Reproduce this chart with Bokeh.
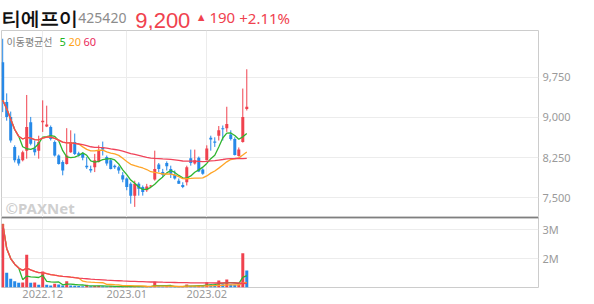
import numpy as np
import pandas as pd
from bokeh.plotting import figure
from bokeh.layouts import column
from bokeh.models import (Range1d, FixedTicker, NumeralTickFormatter, CustomJSTickFormatter,
                          Grid, Label, Span, ColumnDataSource)
from bokeh.core.properties import value
from bokeh.embed import file_html
from bokeh.resources import INLINE

# ---------------- data ----------------
stock_name = "티에프이"
stock_code = "425420"
last_price = "9,200"
change_abs = "190"
change_pct = "+2.11%"

month_ticks = [10, 31, 51]
month_labels = ["2022.12", "2023.01", "2023.02"]
price_ticks = [7500, 8250, 9000, 9750]
volume_ticks = [2_000_000, 3_000_000]

opens = [10030, 9290, 9010, 8450, 8230, 8200, 8380, 8910, 8420, 8380,
         8910, 8830, 8820, 8540, 8290, 8170, 8130, 8350, 8540, 8330,
         8330, 8100, 8040, 8070, 8170, 8440, 8260, 8200, 8100, 8070,
         7920, 7860, 7760, 7540, 7760, 7700, 7640, 7710, 7840, 8120,
         7980, 8150, 8040, 7930, 7820, 7740, 7790, 8240, 8140, 8250,
         8030, 8200, 8620, 8550, 8660, 8800, 8800, 8680, 8600, 8280,
         8540, 9160]
highs = [10470, 9450, 9110, 8480, 8290, 8380, 9420, 9010, 8570, 8660,
         9320, 9220, 8850, 8570, 8310, 8200, 8800, 8760, 8700, 8360,
         8350, 8260, 8100, 8320, 8480, 8550, 8290, 8220, 8120, 8100,
         7980, 7880, 7790, 7820, 7790, 7730, 7760, 7740, 8380, 8150,
         8040, 8180, 8100, 8010, 7860, 7790, 8100, 8400, 8400, 8270,
         8050, 8480, 8660, 8630, 8840, 8850, 9200, 8760, 8630, 8440,
         9540, 9900]
lows = [9100, 8940, 8530, 8160, 8100, 8180, 8230, 8480, 8290, 8230,
        8730, 8820, 8570, 8270, 8120, 7920, 8120, 8340, 8300, 8270,
        8200, 8040, 7970, 7980, 8160, 8290, 8100, 8030, 8040, 7950,
        7790, 7640, 7390, 7330, 7540, 7540, 7610, 7700, 7820, 7980,
        7890, 8010, 7870, 7840, 7760, 7680, 7730, 8100, 8120, 7980,
        7930, 8200, 8380, 8450, 8570, 8570, 8730, 8570, 8290, 8270,
        8530, 9130]
closes = [9320, 9010, 8570, 8200, 8140, 8350, 8820, 8510, 8350, 8540,
          8940, 8870, 8600, 8290, 8130, 8010, 8290, 8540, 8320, 8290,
          8250, 8070, 8010, 8200, 8380, 8400, 8140, 8040, 8070, 8010,
          7840, 7700, 7540, 7760, 7670, 7610, 7710, 7730, 8040, 8040,
          7930, 8090, 7950, 7860, 7760, 7700, 8070, 8150, 8200, 7990,
          7950, 8420, 8590, 8530, 8760, 8780, 8880, 8600, 8300, 8400,
          9010, 9200]
volume_m = [3.19, 1.52, 1.32, 1.23, 1.18, 1.19, 2.14, 1.18, 1.19, 1.11,
            1.57, 1.11, 1.09, 1.15, 1.12, 1.09, 1.23, 1.09, 1.08, 1.07,
            1.06, 1.11, 1.06, 1.07, 1.08, 1.06, 1.05, 1.06, 1.05, 1.06,
            1.05, 1.06, 1.05, 1.06, 1.05, 1.04, 1.05, 1.04, 1.22, 1.06,
            1.05, 1.06, 1.05, 1.04, 1.05, 1.06, 1.12, 1.08, 1.07, 1.08,
            1.07, 1.20, 1.13, 1.12, 1.26, 1.13, 1.29, 1.12, 1.11, 1.12,
            2.19, 1.60]
ma_windows = [5, 20, 60]

# ---------------- styles ----------------
RED = "#f0424e"
BLUE = "#2689e8"
MA_COLORS = ["#2fb52f", "#ffa426", "#f0435a"]
LEGEND_COLORS = ["#22b422", "#ffa31a", "#ea2a5c"]
GRID = "#ececec"
FRAME = "#cccccc"
LABEL = "#9a9a9a"
FONT = "Noto Sans"
KFONT = "Noto Sans CJK KR"
HFONT = "Liberation Sans"

n = len(closes)
idx = np.arange(n)
o = np.array(opens, float)
c = np.array(closes, float)
vol = np.array(volume_m) * 1_000_000
candle_colors = [RED if cc >= oo else BLUE for oo, cc in zip(o, c)]
vol_colors = [RED if (i == 0 or vol[i] >= vol[i - 1]) else BLUE for i in range(n)]

src = ColumnDataSource(dict(x=idx, top=np.maximum(o, c), bottom=np.minimum(o, c),
                            high=highs, low=lows, color=candle_colors))

x_range = Range1d(-0.3, 133.9)

# ---------------- header ----------------
h = figure(width=594, height=30, x_range=Range1d(0, 594), y_range=Range1d(30, 0),
           toolbar_location=None, output_backend="svg", min_border=0,
           x_axis_location=None, y_axis_location=None, outline_line_color=None)
h.grid.visible = False
h.text(x=[0], y=[17.8], text=[stock_name], text_font=value(HFONT), text_font_size="19px",
       text_font_style="bold", text_color="#111111", text_baseline="alphabetic")
h.text(x=[85], y=[17], text=[stock_code], text_font=value(FONT), text_font_size="14px",
       text_color="#8c8c8c", text_baseline="alphabetic")
h.text(x=[148], y=[19.5], text=[last_price], text_font=value(HFONT), text_font_size="22px",
       text_color=RED, text_baseline="alphabetic")
h.text(x=[215], y=[16], text=["▲"], text_font=value(FONT), text_font_size="11px",
       text_color=RED, text_baseline="alphabetic")
h.text(x=[230], y=[17], text=[change_abs], text_font=value(FONT), text_font_size="15px",
       text_color=RED, text_baseline="alphabetic")
h.text(x=[263], y=[17], text=[change_pct], text_font=value(FONT), text_font_size="15px",
       text_color=RED, text_baseline="alphabetic")

# ---------------- price panel ----------------
p1 = figure(width=594, height=187, x_range=x_range, y_range=Range1d(7132, 10624),
            y_axis_location="right", x_axis_location=None, toolbar_location=None,
            output_backend="svg", min_border_left=1, min_border_right=56,
            min_border_top=0, min_border_bottom=0, outline_line_color=FRAME)
p1.grid.visible = False
p1.add_layout(Grid(dimension=0, ticker=FixedTicker(ticks=month_ticks), grid_line_color=GRID))
p1.add_layout(Grid(dimension=1, ticker=FixedTicker(ticks=price_ticks), grid_line_color=GRID))
ya = p1.yaxis[0]
ya.ticker = FixedTicker(ticks=price_ticks)
ya.formatter = NumeralTickFormatter(format="0,0")
ya.axis_line_color = None
ya.major_tick_line_color = None
ya.minor_tick_line_color = None
ya.major_tick_out = 0
ya.major_tick_in = 0
ya.major_label_standoff = 4
ya.major_label_text_color = LABEL
ya.major_label_text_font = FONT
ya.major_label_text_font_size = "11px"

p1.segment(x0="x", y0="low", x1="x", y1="high", line_color="color", line_width=1, source=src)
p1.vbar(x="x", width=0.75, top="top", bottom="bottom", fill_color="color", line_color=None, source=src)

cs = pd.Series(c)
for w, col in zip(ma_windows, MA_COLORS):
    p1.line(idx, cs.rolling(w, min_periods=1).mean().values, line_color=col, line_width=1.3)

p1.add_layout(Label(x=5, y=176, x_units="screen", y_units="screen", text="이동평균선",
                    text_font=KFONT, text_font_size="10px", text_color="#808080",
                    text_baseline="middle"))
for txt, xx, col in zip(["5", "20", "60"], [58, 67, 82], LEGEND_COLORS):
    p1.add_layout(Label(x=xx, y=176, x_units="screen", y_units="screen", text=txt,
                        text_font=FONT, text_font_size="11px", text_color=col,
                        text_baseline="middle"))
p1.add_layout(Label(x=4, y=10, x_units="screen", y_units="screen", text="©PAXNet",
                    text_font=FONT, text_font_size="15px", text_font_style="bold",
                    text_color="#cfcfcf", text_baseline="middle"))

# ---------------- volume panel ----------------
p2 = figure(width=594, height=87, x_range=x_range, y_range=Range1d(1.02e6, 3.41e6),
            y_axis_location="right", toolbar_location=None, output_backend="svg",
            min_border_left=1, min_border_right=56, min_border_top=0, min_border_bottom=17,
            outline_line_color=FRAME)
p2.grid.visible = False
p2.add_layout(Grid(dimension=0, ticker=FixedTicker(ticks=month_ticks), grid_line_color=GRID))
p2.add_layout(Grid(dimension=1, ticker=FixedTicker(ticks=volume_ticks), grid_line_color=GRID))
xa = p2.xaxis[0]
xa.ticker = FixedTicker(ticks=month_ticks)
xa.major_label_overrides = {t: l for t, l in zip(month_ticks, month_labels)}
vy = p2.yaxis[0]
vy.ticker = FixedTicker(ticks=volume_ticks)
vy.formatter = CustomJSTickFormatter(code="return (tick / 1e6).toFixed(0) + 'M';")
for ax in [xa, vy]:
    ax.axis_line_color = None
    ax.major_tick_line_color = None
    ax.minor_tick_line_color = None
    ax.major_tick_out = 0
    ax.major_tick_in = 0
    ax.major_label_text_color = LABEL
    ax.major_label_text_font = FONT
    ax.major_label_text_font_size = "11px"
xa.major_label_standoff = 2
vy.major_label_standoff = 4

p2.vbar(x=idx, width=0.75, top=vol, bottom=0, fill_color=vol_colors, line_color=None)
vs = pd.Series(vol)
for w, col in zip(ma_windows, MA_COLORS):
    p2.line(idx, vs.rolling(w, min_periods=1).mean().values, line_color=col, line_width=1.3)
p2.add_layout(Span(location=3.41e6, dimension="width", line_color="#333333", line_width=1.5))

layout = column(h, p1, p2, spacing=0)
open("out.html", "w").write(file_html(layout, INLINE))
